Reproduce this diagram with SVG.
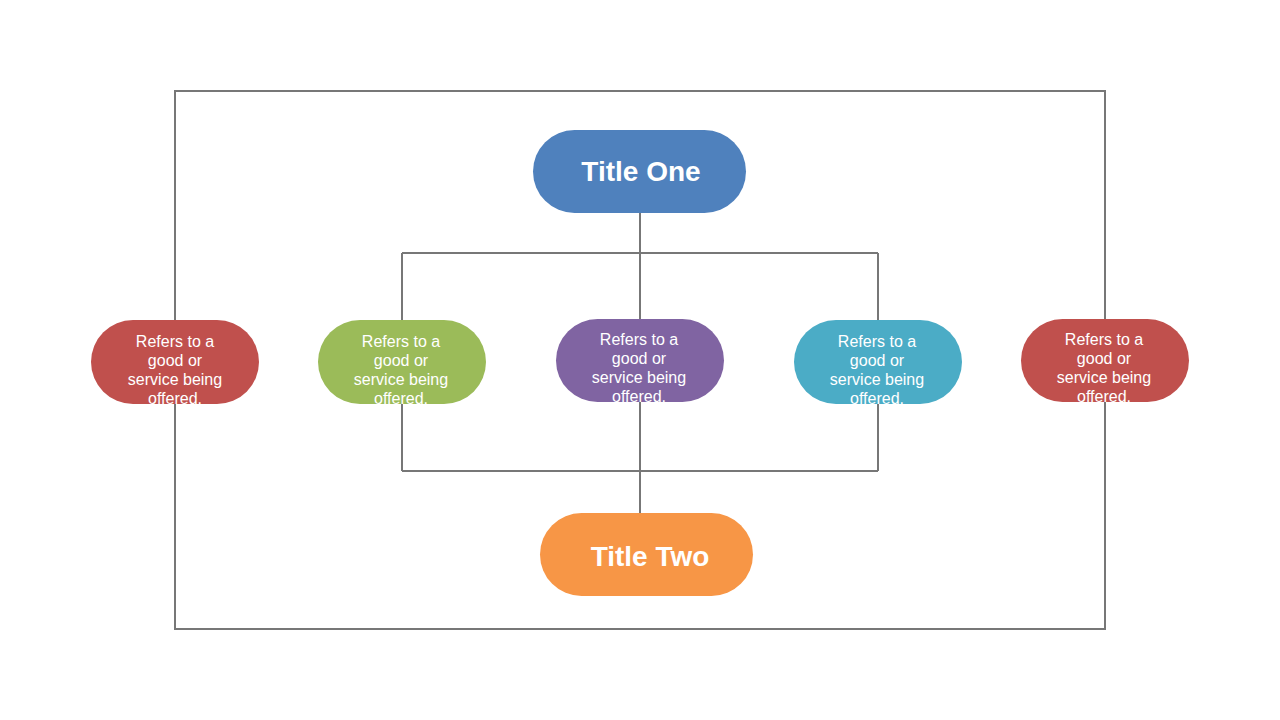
<svg xmlns="http://www.w3.org/2000/svg" width="1280" height="720" viewBox="0 0 1280 720">
<style>
.c{fill:none;stroke:#777;stroke-width:2}
.t{font-family:"Liberation Sans",Arial,sans-serif;fill:#fff;text-anchor:middle}
.big{font-size:28px;font-weight:bold}
.sm{font-size:16px}
</style>
<rect width="1280" height="720" fill="#fff"/>
<g id="connectors">
<rect class="c" x="175" y="91" width="930" height="538"/>
<path class="c" d="M640 213V253M402 253H878M402 253V320M640 253V319M878 253V320"/>
<path class="c" d="M402 404V471M640 402V471M878 404V471M402 471H878M640 471V513"/>
</g>
<g id="title-one"><rect x="533" y="130" width="213" height="83" rx="41.5" fill="#4F81BD"/><text class="t big" x="641" y="181">Title One</text></g>
<g id="title-two"><rect x="540" y="513" width="213" height="83" rx="41.5" fill="#F79646"/><text class="t big" x="650" y="566">Title Two</text></g>
<g id="n1"><rect x="91" y="320" width="168" height="84" rx="42" fill="#C0504D"/><text class="t sm" x="175"><tspan x="175" y="347">Refers to a</tspan><tspan x="175" y="366">good or</tspan><tspan x="175" y="385">service being</tspan><tspan x="175" y="404">offered.</tspan></text></g>
<g id="n2"><rect x="318" y="320" width="168" height="84" rx="42" fill="#9BBB59"/><text class="t sm" x="401"><tspan x="401" y="347">Refers to a</tspan><tspan x="401" y="366">good or</tspan><tspan x="401" y="385">service being</tspan><tspan x="401" y="404">offered.</tspan></text></g>
<g id="n3"><rect x="556" y="319" width="168" height="83" rx="41.5" fill="#8064A2"/><text class="t sm" x="639"><tspan x="639" y="345">Refers to a</tspan><tspan x="639" y="364">good or</tspan><tspan x="639" y="383">service being</tspan><tspan x="639" y="402">offered.</tspan></text></g>
<g id="n4"><rect x="794" y="320" width="168" height="84" rx="42" fill="#4BACC6"/><text class="t sm" x="877"><tspan x="877" y="347">Refers to a</tspan><tspan x="877" y="366">good or</tspan><tspan x="877" y="385">service being</tspan><tspan x="877" y="404">offered.</tspan></text></g>
<g id="n5"><rect x="1021" y="319" width="168" height="83" rx="41.5" fill="#C0504D"/><text class="t sm" x="1104"><tspan x="1104" y="345">Refers to a</tspan><tspan x="1104" y="364">good or</tspan><tspan x="1104" y="383">service being</tspan><tspan x="1104" y="402">offered.</tspan></text></g>
</svg>
